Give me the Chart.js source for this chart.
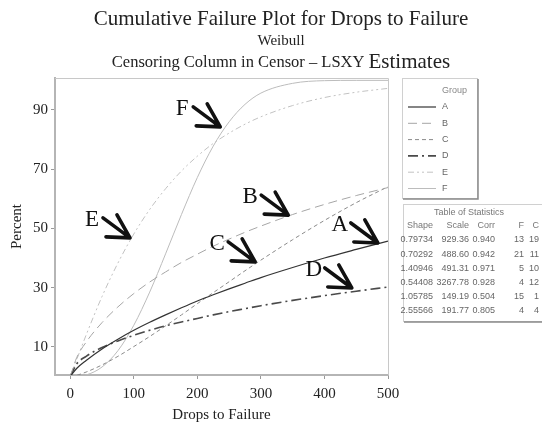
<!DOCTYPE html>
<html>
<head>
<meta charset="utf-8">
<script src="https://cdn.jsdelivr.net/npm/chart.js@4.4.0/dist/chart.umd.min.js"></script>
<style>
  html, body { margin: 0; padding: 0; background: #fff; }
  #chart { display: block; }
</style>
</head>
<body>
<canvas id="chart" width="542" height="425"></canvas>
<script>
// values (percent failed at each drop count)
const dropsToFailure = [0, 10, 25, 50, 75, 100, 125, 150, 175, 200, 225, 250, 275, 300, 350, 400, 450, 500];
const groupA = [0, 2.7, 5.4, 9.3, 12.6, 15.6, 18.3, 20.8, 23.2, 25.5, 27.6, 29.6, 31.5, 33.4, 36.8, 40.0, 42.9, 45.7];
const groupB = [0, 6.3, 11.6, 18.2, 23.5, 28.0, 31.9, 35.3, 38.5, 41.3, 44.0, 46.4, 48.7, 50.8, 54.7, 58.1, 61.1, 63.8];
const groupC = [0, 0.4, 1.5, 3.9, 6.8, 10.1, 13.5, 17.1, 20.8, 24.6, 28.3, 32.0, 35.7, 39.3, 46.2, 52.7, 58.7, 64.1];
const groupD = [0, 4.2, 6.8, 9.8, 12.0, 13.9, 15.6, 17.1, 18.4, 19.6, 20.8, 21.9, 22.9, 23.9, 25.7, 27.3, 28.8, 30.2];
const groupE = [0, 5.6, 14.0, 27.0, 38.3, 48.1, 56.4, 63.4, 69.4, 74.4, 78.7, 82.2, 85.2, 87.7, 91.5, 94.2, 96.0, 97.3];
const groupF = [0, 0.05, 0.5, 3.2, 8.7, 17.3, 28.5, 41.4, 54.7, 67.2, 77.8, 86.0, 91.9, 95.7, 99.0, 99.9, 100, 100];

const groupNames = ['A', 'B', 'C', 'D', 'E', 'F'];
const xTickValues = [0, 100, 200, 300, 400, 500];
const yTickValues = [10, 30, 50, 70, 90];

// where each letter's arrow points (drops, percent)
const arrowDrops = [484, 343, 291, 443, 94, 236];
const arrowPercent = [45.1, 54.5, 38.7, 29.9, 46.8, 84.3];

// table of statistics
const statShape = ['0.79734', '0.70292', '1.40946', '0.54408', '1.05785', '2.55566'];
const statScale = ['929.36', '488.60', '491.31', '3267.78', '149.19', '191.77'];
const statCorr = ['0.940', '0.942', '0.971', '0.928', '0.504', '0.805'];
const statF = ['13', '21', '5', '4', '15', '4'];
const statC = ['19', '11', '10', '12', '1', '4'];

const SERIF = '"Liberation Serif", "DejaVu Serif", serif';
const SANS = '"Liberation Sans", "DejaVu Sans", sans-serif';

const lineStyles = [
  { color: '#333333', width: 1.2, dash: [] },
  { color: '#a6a6a6', width: 1, dash: [9, 5] },
  { color: '#8a8a8a', width: 1, dash: [4, 3] },
  { color: '#4a4a4a', width: 1.6, dash: [10, 4, 2, 4] },
  { color: '#c2c2c2', width: 1, dash: [6, 3, 2, 3, 2, 3] },
  { color: '#bcbcbc', width: 1, dash: [] }
];

const series = [groupA, groupB, groupC, groupD, groupE, groupF];
const datasets = series.map((vals, i) => ({
  label: groupNames[i],
  data: dropsToFailure.map((x, j) => ({ x: x, y: vals[j] })),
  borderColor: lineStyles[i].color,
  borderWidth: lineStyles[i].width,
  borderDash: lineStyles[i].dash,
  pointRadius: 0,
  fill: false,
  cubicInterpolationMode: 'monotone'
}));

const titlesPlugin = {
  id: 'titles',
  afterDraw(chart) {
    const ctx = chart.ctx;
    ctx.save();
    ctx.fillStyle = '#222';
    ctx.textBaseline = 'middle';
    ctx.textAlign = 'center';
    ctx.font = '21px ' + SERIF;
    ctx.fillText('Cumulative Failure Plot for Drops to Failure', 281, 19);
    ctx.font = '15px ' + SERIF;
    ctx.fillText('Weibull', 281, 41);
    // third line: small text then a bigger "Estimates"
    const a = 'Censoring Column in Censor \u2013 LSXY ';
    const b = 'Estimates';
    ctx.font = '16.5px ' + SERIF;
    const wa = ctx.measureText(a).width;
    ctx.font = '21px ' + SERIF;
    const wb = ctx.measureText(b).width;
    let x0 = 281 - (wa + wb) / 2;
    ctx.textAlign = 'left';
    ctx.font = '16.5px ' + SERIF;
    ctx.fillText(a, x0, 63);
    ctx.font = '21px ' + SERIF;
    ctx.fillText(b, x0 + wa, 62);
    ctx.restore();
  }
};

const framePlugin = {
  id: 'frame',
  beforeDatasetsDraw(chart) {
    const { ctx, chartArea: a } = chart;
    ctx.save();
    ctx.strokeStyle = '#c8c8c8';
    ctx.lineWidth = 1;
    ctx.beginPath();
    ctx.moveTo(a.left, a.top + 0.5);
    ctx.lineTo(a.right + 0.5, a.top + 0.5);
    ctx.lineTo(a.right + 0.5, a.bottom);
    ctx.stroke();
    ctx.restore();
  }
};

const arrowsPlugin = {
  id: 'arrows',
  afterDatasetsDraw(chart) {
    const ctx = chart.ctx;
    const xs = chart.scales.x, ys = chart.scales.y;
    ctx.save();
    ctx.strokeStyle = '#111';
    ctx.fillStyle = '#111';
    ctx.lineWidth = 3.6;
    ctx.lineCap = 'round';
    ctx.font = '23px ' + SERIF;
    ctx.textAlign = 'center';
    ctx.textBaseline = 'middle';
    groupNames.forEach((name, i) => {
      const tx = xs.getPixelForValue(arrowDrops[i]);
      const ty = ys.getPixelForValue(arrowPercent[i]);
      ctx.beginPath();
      ctx.moveTo(tx - 27, ty - 20);
      ctx.lineTo(tx, ty);
      ctx.moveTo(tx - 13, ty - 23);
      ctx.lineTo(tx, ty);
      ctx.moveTo(tx - 24, ty - 1);
      ctx.lineTo(tx, ty);
      ctx.stroke();
      ctx.fillText(name, tx - 38, ty - 18);
    });
    ctx.restore();
  }
};

function drawBox(ctx, x, y, w, h) {
  ctx.fillStyle = '#fff';
  ctx.fillRect(x, y, w, h);
  ctx.strokeStyle = '#d0d0d0';
  ctx.lineWidth = 1;
  ctx.strokeRect(x + 0.5, y + 0.5, w, h);
  ctx.strokeStyle = '#8a8a8a';
  ctx.lineWidth = 1.5;
  ctx.beginPath();
  ctx.moveTo(x + w + 1, y + 1);
  ctx.lineTo(x + w + 1, y + h + 1);
  ctx.lineTo(x + 1, y + h + 1);
  ctx.stroke();
}

const legendBoxPlugin = {
  id: 'legendBox',
  afterDraw(chart) {
    const ctx = chart.ctx;
    ctx.save();
    drawBox(ctx, 402, 78, 75, 120);
    ctx.font = '9px ' + SANS;
    ctx.fillStyle = '#888';
    ctx.textBaseline = 'middle';
    ctx.textAlign = 'left';
    ctx.fillText('Group', 442, 91);
    chart.data.datasets.forEach((ds, i) => {
      const y = 107 + i * 16.3;
      ctx.strokeStyle = ds.borderColor;
      ctx.lineWidth = ds.borderWidth;
      ctx.setLineDash(ds.borderDash);
      ctx.beginPath();
      ctx.moveTo(408, y);
      ctx.lineTo(436, y);
      ctx.stroke();
      ctx.setLineDash([]);
      ctx.fillStyle = '#666';
      ctx.fillText(ds.label, 442, y);
    });
    ctx.restore();
  }
};

const statsTablePlugin = {
  id: 'statsTable',
  afterDraw(chart) {
    const ctx = chart.ctx;
    ctx.save();
    drawBox(ctx, 403, 204, 145, 117);
    ctx.font = '9px ' + SANS;
    ctx.fillStyle = '#777';
    ctx.textBaseline = 'middle';
    ctx.textAlign = 'center';
    ctx.fillText('Table of Statistics', 469, 213);
    const cols = [
      { head: 'Shape', right: 433, vals: statShape },
      { head: 'Scale', right: 469, vals: statScale },
      { head: 'Corr', right: 495, vals: statCorr },
      { head: 'F', right: 524, vals: statF },
      { head: 'C', right: 539, vals: statC }
    ];
    ctx.textAlign = 'right';
    cols.forEach(c => {
      ctx.fillStyle = '#777';
      ctx.fillText(c.head, c.right, 226);
      ctx.fillStyle = '#666';
      c.vals.forEach((v, r) => ctx.fillText(v, c.right, 240 + r * 14.2));
    });
    ctx.restore();
  }
};

new Chart(document.getElementById('chart'), {
  type: 'line',
  data: { datasets: datasets },
  options: {
    responsive: false,
    animation: false,
    layout: { padding: { left: 0, top: 78, right: 154, bottom: 0 } },
    plugins: {
      legend: { display: false },
      tooltip: { enabled: false },
      title: { display: false }
    },
    scales: {
      x: {
        type: 'linear',
        min: -24,
        max: 500,
        afterBuildTicks: s => { s.ticks = xTickValues.map(v => ({ value: v })); },
        afterFit: s => { s.height = 50; },
        grid: { display: true, drawOnChartArea: false, drawTicks: true, tickLength: 4, color: '#999' },
        border: { display: true, color: '#b5b5b5', width: 2 },
        ticks: { font: { family: SERIF, size: 15 }, color: '#222', padding: 6, maxRotation: 0 },
        title: { display: true, text: 'Drops to Failure', font: { family: SERIF, size: 15 }, color: '#222', padding: { top: 0, bottom: 1 } }
      },
      y: {
        type: 'linear',
        min: 0.5,
        max: 100.8,
        afterBuildTicks: s => { s.ticks = yTickValues.map(v => ({ value: v })); },
        afterFit: s => { s.width = 55; },
        grid: { display: true, drawOnChartArea: false, drawTicks: true, tickLength: 4, color: '#999' },
        border: { display: true, color: '#b5b5b5', width: 2 },
        ticks: { font: { family: SERIF, size: 15 }, color: '#222', padding: 3 },
        title: { display: true, text: 'Percent', font: { family: SERIF, size: 15 }, color: '#222', padding: { top: 8, bottom: 0 } }
      }
    }
  },
  plugins: [titlesPlugin, framePlugin, arrowsPlugin, legendBoxPlugin, statsTablePlugin]
});
</script>
</body>
</html>
